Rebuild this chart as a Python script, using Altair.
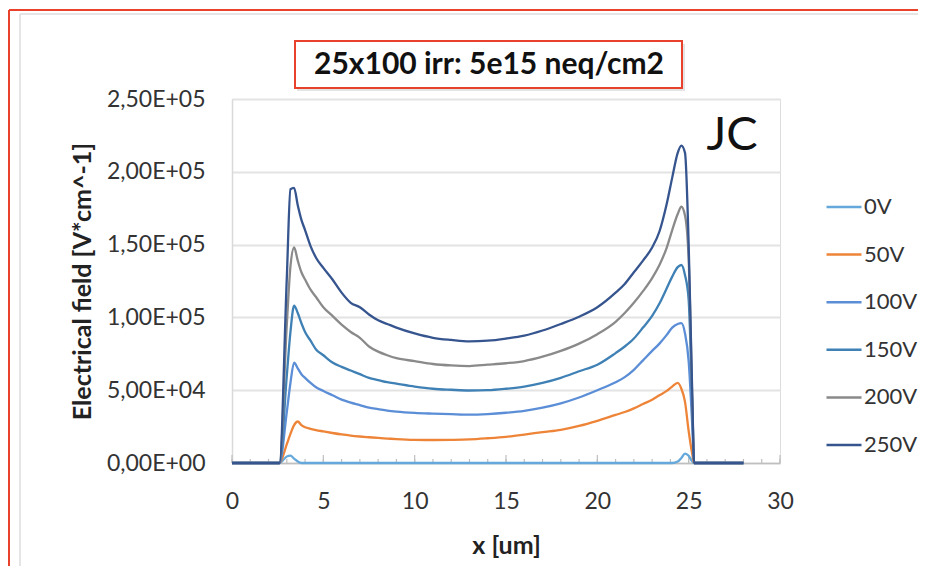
import altair as alt
import pandas as pd

# ---------------- data ----------------
x_um = [0, 1, 2, 2.6, 3.0, 3.2, 3.4, 3.6, 3.8, 4.0,
        4.3, 4.6, 5.0, 5.5, 6.0, 6.5, 7.0, 7.5, 8.0, 8.5, 9.0,
        10, 11, 12, 13, 14, 15, 16, 17, 18, 19, 20,
        21, 21.5, 22, 22.5, 23,
        23.4, 23.8, 24.1, 24.4, 24.6, 24.8,
        25.0, 25.2, 25.3,
        26, 27, 28]

# electric field in units of 1e3 V/cm
v_0V = [0, 0, 0, 0, 4.5, 5.0, 3.0, 1.0, 0, 0,
        0, 0, 0, 0, 0, 0, 0, 0, 0, 0, 0,
        0, 0, 0, 0, 0, 0, 0, 0, 0, 0, 0,
        0, 0, 0, 0, 0,
        0, 0, 0, 1.0, 3.5, 6.5,
        5.0, 1.0, 0,
        0, 0, 0]
v_50V = [0, 0, 0, 0, 13, 20, 26, 28.5, 26, 24.5,
         23.5, 22.6, 21.7, 20.6, 19.6, 18.8, 18.2, 17.7, 17.2, 16.8, 16.4,
         15.9, 15.8, 15.9, 16.2, 17.0, 18.0, 19.5, 21.2, 22.8, 25.5, 29.0,
         33.0, 35.0, 37.5, 40.5, 43.5,
         46.5, 49.5, 52.5, 55.0, 51.0, 42.0,
         22.0, 6.0, 0,
         0, 0, 0]
v_100V = [0, 0, 0, 0, 35, 55, 69, 65, 61, 58.5,
          55, 52, 49.5, 46.5, 43.5, 41.5, 39.8, 38, 37, 36, 35.3,
          34.4, 33.9, 33.5, 33.2, 33.6, 34.5, 35.8, 38, 41, 45, 50,
          55.5, 59, 64, 70.5, 77,
          82, 88, 93, 95.5, 96, 89,
          70, 25, 0,
          0, 0, 0]
v_150V = [0, 0, 0, 0, 60, 90, 108, 103, 96, 90,
          84, 78, 74, 69, 66, 63.5, 61, 58.5, 57, 55.5, 54.5,
          52.5, 51, 50.3, 49.8, 50, 51, 52.5, 55, 58.5, 63, 67.5,
          75.5, 80, 85.5, 93, 101,
          109.5, 120, 128, 134.5, 136, 129,
          112, 38, 0,
          0, 0, 0]
v_200V = [0, 0, 0, 0, 95, 135, 148, 139, 131, 126,
          119, 114, 107, 101, 95, 90, 86, 80, 76.5, 74, 72,
          70, 68, 67, 66.6, 67.5, 68.5, 70, 73, 77, 82, 88.5,
          97, 103, 110, 118, 127,
          136, 148, 160, 171, 176, 170,
          140, 42, 0,
          0, 0, 0]
v_250V = [0, 0, 0, 0, 127, 188, 189, 177, 167, 160,
          149, 141, 134, 126, 117, 110, 107, 102, 98, 95.5, 93,
          89, 86, 84.5, 83.5, 84, 85.5, 87.5, 91, 95.5, 100.5, 107,
          117, 123, 131, 139, 148,
          159, 178, 196, 213, 218, 213,
          150, 45, 0,
          0, 0, 0]

series_names = ["0V", "50V", "100V", "150V", "200V", "250V"]
series_values = [v_0V, v_50V, v_100V, v_150V, v_200V, v_250V]
series_colors = ["#64A8DC", "#EE8438", "#5B8ED6", "#3F80B5", "#8A8A8A", "#36558F"]

y_ticks = [0, 50000, 100000, 150000, 200000, 250000]
y_tick_labels = ["0,00E+00", "5,00E+04", "1,00E+05", "1,50E+05", "2,00E+05", "2,50E+05"]
x_ticks = [0, 5, 10, 15, 20, 25, 30]
x_tick_labels = ["0", "5", "10", "15", "20", "25", "30"]
x_minor_ticks = list(range(0, 31))

chart_title = "25x100 irr: 5e15 neq/cm2"
corner_note = "JC"
x_title = "x [um]"
y_title = "Electrical field [V*cm^-1]"

# ---------------- tables ----------------
rows = []
for name, vals in zip(series_names, series_values):
    for xv, yv in zip(x_um, vals):
        rows.append({"x": xv, "E": yv * 1000.0, "series": name})
df = pd.DataFrame(rows)
major_df = pd.DataFrame({"t": x_ticks})
minor_df = pd.DataFrame({"t": x_minor_ticks})
one = pd.DataFrame({"k": [0]})


def label_expr(vals, labels):
    expr = "''"
    for v, lab in reversed(list(zip(vals, labels))):
        expr = f"datum.value == {v} ? '{lab}' : ({expr})"
    return expr


W, H = 548, 364
FONT = "Lato"
RED = "#E8412C"
TICK_FS = 23
TITLE_FS = 25

x_scale = alt.Scale(domain=[0, 30], nice=False, zero=True)
y_scale = alt.Scale(domain=[0, 250000], nice=False)

lines = alt.Chart(df).mark_line(strokeWidth=2.3, interpolate="monotone").encode(
    x=alt.X("x:Q", scale=x_scale,
            axis=alt.Axis(values=x_ticks, labelExpr=label_expr(x_ticks, x_tick_labels),
                          ticks=False, tickSize=0, labelPadding=27, grid=False,
                          labelFlush=False, labelOverlap=False,
                          domainColor="#BFBFBF", domainWidth=1.5,
                          labelFont=FONT, labelFontSize=TICK_FS, labelColor="#333333",
                          title=x_title, titleFont=FONT, titleFontSize=TITLE_FS,
                          titleFontWeight="bold", titleColor="#222222",
                          titleX=274, titleY=82, titleBaseline="middle",
                          titleAlign="center")),
    y=alt.Y("E:Q", scale=y_scale,
            axis=alt.Axis(values=y_ticks, labelExpr=label_expr(y_ticks, y_tick_labels),
                          ticks=False, tickSize=0, labelPadding=27,
                          labelFlush=False, labelOverlap=False,
                          grid=True, gridColor="#E3E3E3", gridWidth=2,
                          domainColor="#D9D9D9", domainWidth=1.5,
                          labelFont=FONT, labelFontSize=TICK_FS, labelColor="#333333",
                          title=y_title, titleFont=FONT, titleFontSize=TITLE_FS,
                          titleFontWeight="bold", titleColor="#222222",
                          titleX=-150, titleY=182, titleAngle=270,
                          titleBaseline="middle", titleAlign="center")),
    color=alt.Color("series:N",
                    scale=alt.Scale(domain=series_names, range=series_colors),
                    legend=alt.Legend(orient="none", legendX=593, legendY=89,
                                      title=None, symbolType="stroke",
                                      symbolSize=1225, symbolStrokeWidth=2.5,
                                      labelFont=FONT, labelFontSize=22,
                                      labelColor="#333333", rowPadding=17.6,
                                      labelOffset=1, padding=0)),
)

minor_ticks = alt.Chart(minor_df).mark_rule(color="#BFBFBF", strokeWidth=1.2).encode(
    x=alt.X("t:Q", scale=x_scale), y=alt.value(H), y2=alt.value(H - 4))
major_ticks = alt.Chart(major_df).mark_rule(color="#BFBFBF", strokeWidth=1.2).encode(
    x=alt.X("t:Q", scale=x_scale), y=alt.value(H), y2=alt.value(H - 8))

# frames and annotations
red_top = alt.Chart(one).mark_rule(color=RED, strokeWidth=2).encode(
    x=alt.value(-223), x2=alt.value(700), y=alt.value(-89))
red_left = alt.Chart(one).mark_rule(color=RED, strokeWidth=2).encode(
    x=alt.value(-223), y=alt.value(-89), y2=alt.value(480))
grey_top = alt.Chart(one).mark_rule(color="#DCDCDC", strokeWidth=1.5).encode(
    x=alt.value(-212), x2=alt.value(700), y=alt.value(-85))
grey_left = alt.Chart(one).mark_rule(color="#DCDCDC", strokeWidth=1.5).encode(
    x=alt.value(-212), y=alt.value(-85), y2=alt.value(480))

box_shadow = alt.Chart(one).mark_rect(fill="#D8D8D8", opacity=0.7).encode(
    x=alt.value(65), x2=alt.value(453), y=alt.value(-55), y2=alt.value(-8))
box = alt.Chart(one).mark_rect(fill="white", stroke=RED, strokeWidth=2).encode(
    x=alt.value(63), x2=alt.value(450), y=alt.value(-58), y2=alt.value(-11))
title_text = alt.Chart(one).mark_text(text=chart_title, font=FONT, fontSize=30,
                                      fontWeight="bold", color="#111111",
                                      align="center", baseline="middle").encode(
    x=alt.value(257), y=alt.value(-34))
jc_text = alt.Chart(one).mark_text(text=corner_note, font=FONT, fontSize=47,
                                   color="#111111", align="center",
                                   baseline="middle").encode(
    x=alt.value(500), y=alt.value(37))

chart = alt.layer(
    red_top, red_left, grey_top, grey_left, box_shadow, box, title_text,
    minor_ticks, major_ticks, lines, jc_text
).properties(
    width=W, height=H,
    autosize=alt.AutoSizeParams(type="none"),
    padding={"left": 224, "top": 91, "right": 138, "bottom": 103},
).configure_view(strokeWidth=0).configure(background="white")

chart.save("out.html", embed_options={"renderer": "svg", "actions": False})
